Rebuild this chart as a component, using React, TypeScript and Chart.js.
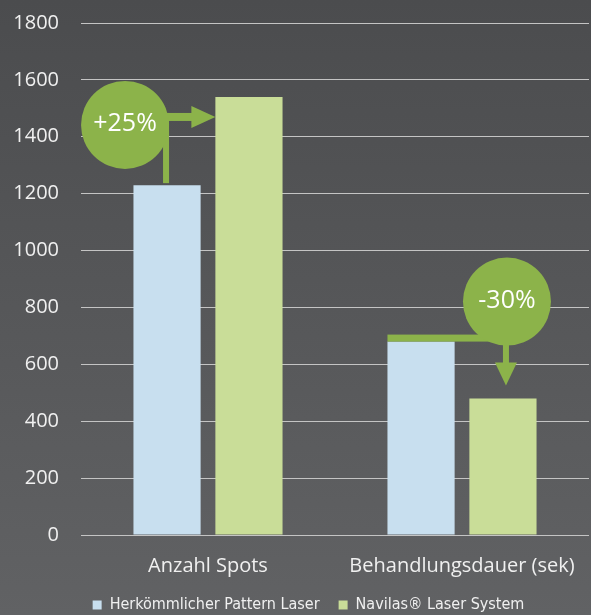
import React, { useEffect, useRef } from "react";
import { Chart, registerables } from "chart.js";

Chart.register(...registerables);

const categories = ["Anzahl Spots", "Behandlungsdauer (sek)"];
const seriesNames = ["Herkömmlicher Pattern Laser", "Navilas® Laser System"];
const conventionalValues = [1230, 680];
const navilasValues = [1540, 480];
const changeLabels = ["+25%", "-30%"];
const yMin = 0;
const yMax = 1800;
const yStep = 200;

const BLUE = "#c8dfef";
const GREEN = "#c9dd98";
const ACCENT = "#8cb34a";
const TEXT = "#f0f0f0";
const GRID = "#c4c4c4";
const NONE = "rgba(0,0,0,0)";

const legendShiftPlugin = {
  id: "legendShift",
  afterLayout(chart: any) {
    const lg = chart.legend;
    if (lg) {
      lg.left += 14;
      lg.right += 14;
    }
  },
};

const changePlugin = {
  id: "changeArrows",
  afterDatasetsDraw(chart: any) {
    const ctx = chart.ctx;
    const d0 = chart.getDatasetMeta(0).data;
    const d1 = chart.getDatasetMeta(1).data;
    const r = 44;
    ctx.save();
    ctx.fillStyle = ACCENT;

    // increase annotation
    const b = d0[0];
    const g = d1[0];
    const cx1 = b.x - 42;
    const cy1 = g.y + 28;
    const ay = cy1 - 8;
    ctx.fillRect(b.x - 4, ay - 4, 6, b.y - 2 - (ay - 4));
    const tip = g.x - g.width / 2;
    ctx.fillRect(cx1, ay - 4, tip - 22 - cx1, 8);
    ctx.beginPath();
    ctx.moveTo(tip, ay);
    ctx.lineTo(tip - 24, ay - 11);
    ctx.lineTo(tip - 24, ay + 11);
    ctx.closePath();
    ctx.fill();
    ctx.beginPath();
    ctx.arc(cx1, cy1, r, 0, Math.PI * 2);
    ctx.fill();

    // decrease annotation
    const b2 = d0[1];
    const g2 = d1[1];
    const cx2 = g2.x + 4;
    const cy2 = b2.y - 40;
    ctx.fillRect(b2.x - b2.width / 2, b2.y - 7, cx2 - (b2.x - b2.width / 2), 7);
    const tip2 = g2.y - 13;
    const ax = cx2 - 1;
    ctx.fillRect(ax - 3, cy2, 6, tip2 - 22 - cy2);
    ctx.beginPath();
    ctx.moveTo(ax, tip2);
    ctx.lineTo(ax - 11, tip2 - 23);
    ctx.lineTo(ax + 11, tip2 - 23);
    ctx.closePath();
    ctx.fill();
    ctx.beginPath();
    ctx.arc(cx2, cy2, r, 0, Math.PI * 2);
    ctx.fill();

    ctx.fillStyle = "#ffffff";
    ctx.font = "25px 'Open Sans', sans-serif";
    ctx.textAlign = "center";
    ctx.textBaseline = "middle";
    ctx.fillText(changeLabels[0], cx1, cy1 - 1);
    ctx.fillText(changeLabels[1], cx2, cy2 - 1);
    ctx.restore();
  },
};

export default function App() {
  const ref = useRef<HTMLCanvasElement>(null);

  useEffect(() => {
    const chart = new Chart(ref.current!, {
      type: "bar",
      data: {
        labels: categories,
        datasets: [
          {
            label: seriesNames[0],
            data: conventionalValues,
            backgroundColor: BLUE,
            borderWidth: 0,
            barPercentage: 0.82,
            categoryPercentage: 0.645,
          },
          {
            label: seriesNames[1],
            data: navilasValues,
            backgroundColor: GREEN,
            borderWidth: 0,
            barPercentage: 0.82,
            categoryPercentage: 0.645,
          },
        ],
      },
      options: {
        responsive: true,
        maintainAspectRatio: false,
        animation: false,
        layout: { padding: { top: 23, left: 0, right: 2, bottom: 0 } },
        plugins: {
          tooltip: { enabled: false },
          legend: {
            position: "bottom",
            labels: {
              boxWidth: 9,
              boxHeight: 9,
              padding: 19,
              color: TEXT,
              font: { size: 16, family: "'Liberation Sans Narrow', 'DejaVu Sans Condensed', sans-serif" },
            },
          },
        },
        scales: {
          x: {
            grid: {
              display: true,
              drawOnChartArea: false,
              drawTicks: true,
              tickLength: 19,
              color: NONE,
              tickColor: NONE,
            },
            border: { display: false },
            ticks: {
              color: TEXT,
              padding: 0,
              font: { size: 20, family: "'Open Sans', sans-serif" },
            },
          },
          y: {
            min: yMin,
            max: yMax,
            grid: { color: GRID, lineWidth: 1, drawTicks: true, tickLength: 22, tickColor: NONE },
            border: { display: false },
            ticks: {
              stepSize: yStep,
              color: TEXT,
              padding: 0,
              font: { size: 20, family: "'Open Sans', sans-serif" },
              callback: (v: any) => String(v),
            },
            afterFit: (s: any) => {
              s.width = 81;
            },
          },
        },
      },
      plugins: [legendShiftPlugin, changePlugin],
    });
    return () => chart.destroy();
  }, []);

  return (
    <div
      style={{
        position: "fixed",
        left: 0,
        top: 0,
        width: 591,
        height: 615,
        overflow: "hidden",
        background: "linear-gradient(#4b4c4e, #616264)",
      }}
    >
      <div style={{ position: "relative", width: 591, height: 623 }}>
        <canvas ref={ref} />
      </div>
    </div>
  );
}
